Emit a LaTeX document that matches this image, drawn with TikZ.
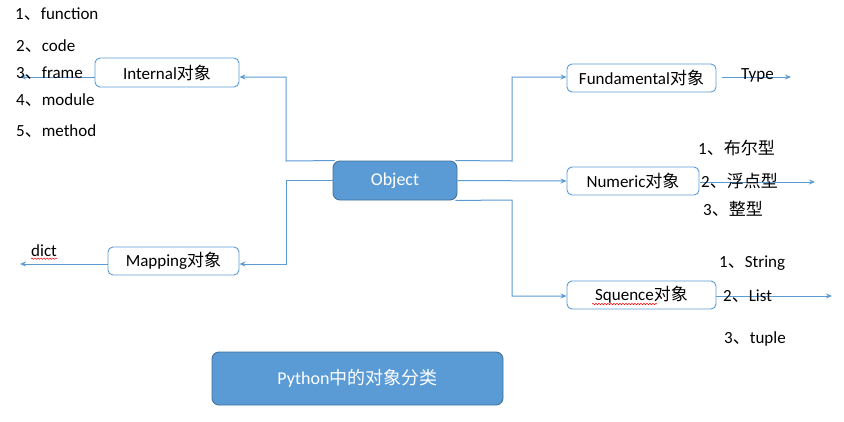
\documentclass[tikz,border=0pt]{standalone}
\usepackage{fontspec}
\setmainfont{Carlito}
\newfontfamily\cjk{Noto Sans CJK SC}
\usetikzlibrary{arrows.meta,decorations.pathmorphing}
\definecolor{blu}{HTML}{5B9BD5}
\definecolor{blud}{HTML}{41719C}
\definecolor{blul}{HTML}{9DC3E6}
\begin{document}
\begin{tikzpicture}[x=1pt,y=-1pt,
  txt/.style={font=\fontsize{17}{19}\selectfont},
  wbox/.style={txt, draw=blu, fill=white, rounded corners=5pt, line width=0.9pt, inner sep=0pt},
  bbox/.style={draw=blud, fill=blu, rounded corners=7pt, line width=0.9pt, inner sep=0pt, text=white, font=\fontsize{18}{20}\selectfont},
  conn/.style={draw=blu, line width=1pt, -{Stealth[length=6pt,width=5pt]}},
  lbl/.style={txt, anchor=west, inner sep=0pt},
  squig/.style={draw=red, line width=0.5pt, decorate, decoration={snake, amplitude=0.7pt, segment length=3pt}}]
\useasboundingbox (0,0) rectangle (844,421);
\fill[white] (0,0) rectangle (844,421);

% boxes
\node[bbox, minimum width=124pt, minimum height=39pt] (obj) at (395,180.5) {Object};
\node[wbox, minimum width=144pt, minimum height=29pt] (int) at (167,72.5) {Internal{\cjk 对象}};
\node[wbox, minimum width=149pt, minimum height=28pt] (fun) at (641.5,78) {Fundamental{\cjk 对象}};
\node[wbox, minimum width=132pt, minimum height=28pt] (num) at (633,181) {Numeric{\cjk 对象}};
\node[wbox, minimum width=131pt, minimum height=28pt] (map) at (173.5,261) {Mapping{\cjk 对象}};
\node[wbox, minimum width=149pt, minimum height=28pt] (seq) at (641.5,295) {Squence{\cjk 对象}};
\node[bbox, minimum width=291pt, minimum height=53pt] (py) at (357.5,378.5) {Python{\cjk 中的对象分类}};

% free ends
\coordinate (intend) at (20,77);
\coordinate (mapend) at (20,264);
\coordinate (funend) at (791,77);
\coordinate (numend) at (815,182);
\coordinate (seqend) at (832,296);

% connectors from Object
\draw[conn] ([xshift=2pt]obj.north west) -- (286,161) |- (int.east |- intend);
\draw[conn] (obj.west) -- (286,180.5) |- (map.east |- mapend);
\draw[conn] ([xshift=-2pt]obj.north east) -- (512,161) |- (fun.west |- funend);
\draw[conn] (obj.east) -- (num.west);
\draw[conn] ([xshift=-2pt]obj.south east) -- (512,200) |- (seq.west |- seqend);

% outgoing arrows
\draw[conn] (int.west |- intend) -- (intend);
\draw[conn] (map.west |- mapend) -- (mapend);
\draw[conn] ([xshift=6pt]fun.east |- funend) -- (funend);
\draw[conn] ([xshift=1pt]num.east |- numend) -- (numend);
\draw[conn] (seq.east |- seqend) -- (seqend);

% left labels
\node[lbl] (l1) at (15,14) {1{\cjk 、}function};
\node[lbl] (l2) at (16,46) {2{\cjk 、}code};
\node[lbl] (l3) at (16,73) {3{\cjk 、}frame};
\node[lbl] (l4) at (16,100) {4{\cjk 、}module};
\node[lbl] (l5) at (16,131) {5{\cjk 、}method};
\node[lbl] (dict) at (31,251) {dict};
\draw[squig] ([yshift=-1.5pt]dict.south west) -- ([yshift=-1.5pt]dict.south east);

% right labels
\node[lbl] (type) at (741,75) {Type};
\node[lbl] (n1) at (698,148) {1{\cjk 、布尔型}};
\node[lbl] (n2) at (701,181) {2{\cjk 、浮点型}};
\node[lbl] (n3) at (703,209) {3{\cjk 、整型}};
\node[lbl] (s1) at (719,263) {1{\cjk 、}String};
\node[lbl] (s2) at (723,296) {2{\cjk 、}List};
\node[lbl] (s3) at (724,339) {3{\cjk 、}tuple};

% spell-check underline under Squence
\draw[squig] (592,304) -- (657,304);
\end{tikzpicture}
\end{document}
